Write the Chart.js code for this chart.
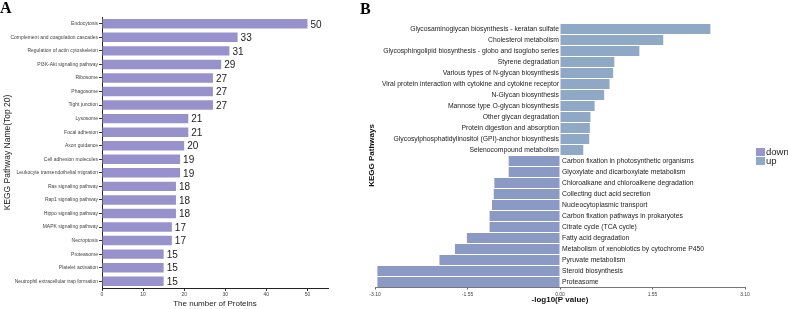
<!DOCTYPE html>
<html>
<head>
<meta charset="utf-8">
<script src="https://cdn.jsdelivr.net/npm/chart.js@4.4.1/dist/chart.umd.min.js"></script>
<style>
html, body { margin: 0; padding: 0; background: #fff; }
#chartA { position: absolute; left: 0; top: 0; }
#chartB { position: absolute; left: 360px; top: 0; }
</style>
</head>
<body>
<canvas id="chartA" width="360" height="309"></canvas>
<canvas id="chartB" width="428" height="309"></canvas>
<script>
/* Panel A data */
var pathwaysA = ["Endocytosis", "Complement and coagulation cascades", "Regulation of actin cytoskeleton",
  "PI3K-Akt signaling pathway", "Ribosome", "Phagosome", "Tight junction", "Lysosome", "Focal adhesion",
  "Axon guidance", "Cell adhesion molecules", "Leukocyte transendothelial migration", "Ras signaling pathway",
  "Rap1 signaling pathway", "Hippo signaling pathway", "MAPK signaling pathway", "Necroptosis", "Proteasome",
  "Platelet activation", "Neutrophil extracellular trap formation"];
var proteinCounts = [50, 33, 31, 29, 27, 27, 27, 21, 21, 20, 19, 19, 18, 18, 18, 17, 17, 15, 15, 15];
var ticksA = [0, 10, 20, 30, 40, 50];

/* Panel B data */
var pathwaysB = ["Glycosaminoglycan biosynthesis - keratan sulfate", "Cholesterol metabolism",
  "Glycosphingolipid biosynthesis - globo and isoglobo series", "Styrene degradation",
  "Various types of N-glycan biosynthesis", "Viral protein interaction with cytokine and cytokine receptor",
  "N-Glycan biosynthesis", "Mannose type O-glycan biosynthesis", "Other glycan degradation",
  "Protein digestion and absorption", "Glycosylphosphatidylinositol (GPI)-anchor biosynthesis",
  "Selenocompound metabolism", "Carbon fixation in photosynthetic organisms",
  "Glyoxylate and dicarboxylate metabolism", "Chloroalkane and chloroalkene degradation",
  "Collecting duct acid secretion", "Nucleocytoplasmic transport", "Carbon fixation pathways in prokaryotes",
  "Citrate cycle (TCA cycle)", "Fatty acid degradation", "Metabolism of xenobiotics by cytochrome P450",
  "Pyruvate metabolism", "Steroid biosynthesis", "Proteasome"];
var upValues = [2.52, 1.73, 1.33, 0.91, 0.89, 0.83, 0.74, 0.58, 0.51, 0.50, 0.49, 0.39,
  null, null, null, null, null, null, null, null, null, null, null, null];
var downValues = [null, null, null, null, null, null, null, null, null, null, null, null,
  -0.86, -0.86, -1.10, -1.11, -1.14, -1.18, -1.18, -1.56, -1.76, -2.02, -3.06, -3.06];
var ticksB = [-3.1, -1.55, 0, 1.55, 3.1];

Chart.defaults.font.family = '"Liberation Sans", Arial, sans-serif';
Chart.defaults.animation = false;

// numbers at the end of the bars in A
var countLabels = {
  id: 'countLabels',
  afterDatasetsDraw: function(chart) {
    var ctx = chart.ctx;
    ctx.save();
    ctx.font = '10px "Liberation Sans"';
    ctx.fillStyle = '#222';
    ctx.textBaseline = 'middle';
    chart.getDatasetMeta(0).data.forEach(function(bar, i) {
      ctx.fillText(proteinCounts[i], bar.x + 3, bar.y + 1);
    });
    ctx.restore();
  }
};

// pathway names next to the zero line + legend in B
var pathLabels = {
  id: 'pathLabels',
  afterDatasetsDraw: function(chart) {
    var ctx = chart.ctx;
    var x0 = chart.scales.x.getPixelForValue(0);
    var ys = chart.scales.y;
    ctx.save();
    ctx.font = '6.8px "Liberation Sans"';
    ctx.fillStyle = '#222';
    ctx.textBaseline = 'middle';
    pathwaysB.forEach(function(name, i) {
      var y = ys.getPixelForValue(i);
      if (upValues[i] != null) {
        ctx.textAlign = 'right';
        ctx.fillText(name, x0 - 1, y);
      } else {
        ctx.textAlign = 'left';
        ctx.fillText(name, x0 + 2, y);
      }
    });
    // legend
    ctx.textAlign = 'left';
    ctx.font = '9.5px "Liberation Sans"';
    ctx.fillStyle = '#9896cb';
    ctx.fillRect(396, 148, 9, 8);
    ctx.fillStyle = '#8eaac8';
    ctx.fillRect(396, 157, 9, 8);
    ctx.fillStyle = '#222';
    ctx.fillText('down', 406, 152);
    ctx.fillText('up', 406, 161);
    ctx.restore();
  }
};

new Chart(document.getElementById('chartA'), {
  type: 'bar',
  data: {
    labels: pathwaysA,
    datasets: [{
      data: proteinCounts,
      backgroundColor: '#9892cc',
      barPercentage: 0.7,
      categoryPercentage: 1
    }]
  },
  options: {
    indexAxis: 'y',
    responsive: false,
    layout: { padding: { left: 0, right: 32, top: 0, bottom: 0 } },
    plugins: {
      legend: { display: false },
      tooltip: { enabled: false },
      title: {
        display: true, text: 'A', align: 'start', color: '#000',
        font: { family: '"Liberation Serif"', size: 16, weight: 'bold', lineHeight: 1 },
        padding: { top: 1, bottom: 0 }
      }
    },
    scales: {
      x: {
        min: 0, max: 55,
        afterBuildTicks: function(s) { s.ticks = ticksA.map(function(v) { return { value: v }; }); },
        afterFit: function(s) { s.height = 21; },
        grid: { drawOnChartArea: false, color: '#333', tickLength: 3 },
        border: { color: '#222' },
        ticks: { font: { size: 5 }, color: '#444', padding: 1 },
        title: { display: true, text: 'The number of Proteins', color: '#222', font: { size: 8 }, padding: { top: 0, bottom: 0 } }
      },
      y: {
        afterFit: function(s) { s.width = 102; },
        grid: { drawOnChartArea: false, offset: false, color: '#333', tickLength: 3 },
        border: { color: '#222' },
        ticks: { font: { size: 5 }, color: '#444', padding: 1, autoSkip: false },
        title: { display: true, text: 'KEGG Pathway Name(Top 20)', color: '#222', font: { size: 8.5 }, padding: { top: 3, bottom: 0 } }
      }
    }
  },
  plugins: [countLabels]
});

new Chart(document.getElementById('chartB'), {
  type: 'bar',
  data: {
    labels: pathwaysB,
    datasets: [{
      label: 'down',
      data: downValues,
      backgroundColor: '#8b9ac4',
      grouped: false,
      barPercentage: 0.9,
      categoryPercentage: 1
    }, {
      label: 'up',
      data: upValues,
      backgroundColor: '#8fa8c5',
      grouped: false,
      barPercentage: 0.9,
      categoryPercentage: 1
    }]
  },
  options: {
    indexAxis: 'y',
    responsive: false,
    layout: { padding: { left: 0, right: 43, top: 0, bottom: 0 } },
    plugins: {
      legend: { display: false },
      tooltip: { enabled: false },
      title: {
        display: true, text: 'B', align: 'start', color: '#000',
        font: { family: '"Liberation Serif"', size: 16, weight: 'bold', lineHeight: 1 },
        padding: { top: 2, bottom: 5.5 }
      }
    },
    scales: {
      x: {
        min: -3.1, max: 3.1,
        afterBuildTicks: function(s) { s.ticks = ticksB.map(function(v) { return { value: v }; }); },
        afterFit: function(s) { s.height = 21.5; },
        grid: { drawOnChartArea: false, color: '#666', tickLength: 2 },
        border: { color: '#777' },
        ticks: {
          font: { size: 5 }, color: '#444', padding: 2,
          callback: function(v) { return Number(v).toFixed(2); }
        },
        title: { display: true, text: '-log10(P value)', color: '#111', font: { size: 8, weight: 'bold' }, padding: { top: 0, bottom: 4 } }
      },
      y: {
        afterFit: function(s) { s.width = 15; },
        grid: { display: false },
        border: { display: false },
        ticks: { display: false },
        title: { display: true, text: 'KEGG Pathways', color: '#111', font: { size: 8, weight: 'bold' }, padding: { top: 7, bottom: 0 } }
      }
    }
  },
  plugins: [pathLabels]
});
</script>
</body>
</html>
